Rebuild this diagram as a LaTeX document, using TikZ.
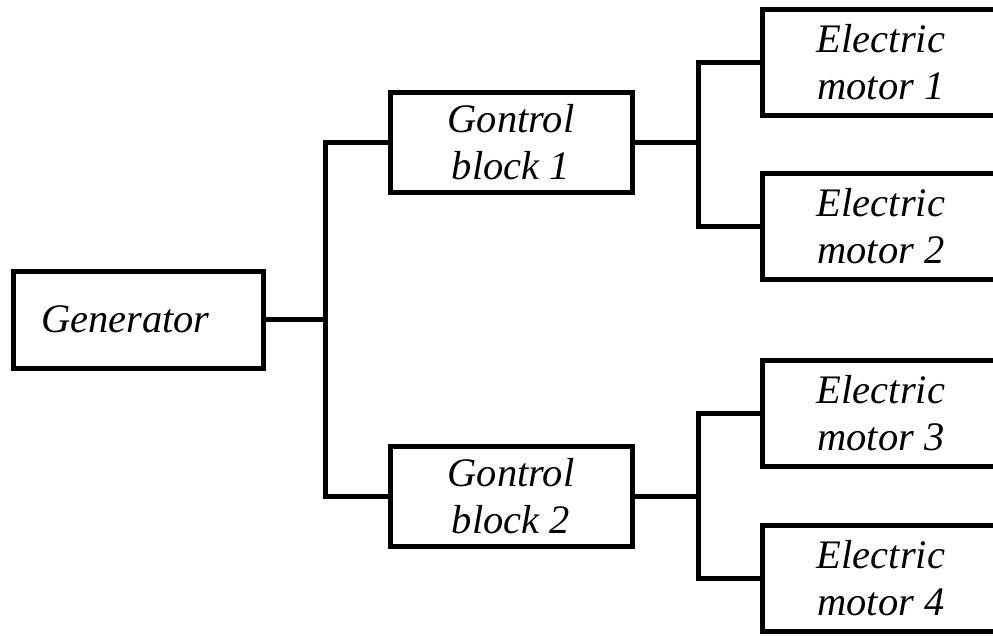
\documentclass[tikz,border=0pt]{standalone}
\usepackage{fontspec}
\setmainfont{Liberation Serif}
\newcommand\blockfont{\fontsize{40.5}{47}\selectfont\itshape}
\tikzset{
  blockbox/.style={draw=black, line width=5pt, inner sep=0pt, align=center, font=\blockfont},
  ctrlbox/.style={blockbox, minimum width=242pt, minimum height=100pt},
  motorbox/.style={blockbox, minimum width=238pt, minimum height=106pt},
  wire/.style={draw=black, line width=5pt}
}
\begin{document}
\begin{tikzpicture}[x=1pt,y=-1pt]
  \clip (0,0) rectangle (993,635);
  \fill[white] (0,0) rectangle (993,635);

  % source
  \node[blockbox, text width=194pt, align=left, inner xsep=28pt, minimum height=97pt] (gen) at (138,319.5) {Generator};

  % control blocks
  \node[ctrlbox] (cb1) at (511,142.5) {Gontrol\\block 1};
  \node[ctrlbox] (cb2) at (511,496) {Gontrol\\block 2};

  % motors
  \node[motorbox] (m1) at (881,62.5) {Electric\\motor 1};
  \node[motorbox] (m2) at (881,226) {Electric\\motor 2};
  \node[motorbox] (m3) at (881,413.5) {Electric\\motor 3};
  \node[motorbox] (m4) at (881,578) {Electric\\motor 4};

  % bus junctions
  \coordinate (j0) at (325,319.5);
  \coordinate (j1) at (698,142.5);
  \coordinate (j2) at (698,496);

  % wiring
  \draw[wire] (gen.east) -- (j0);
  \draw[wire] (cb1.west) -| (j0) |- (cb2.west);
  \draw[wire] (cb1.east) -- (j1);
  \draw[wire] (m1.west) -| (j1) |- (m2.west);
  \draw[wire] (cb2.east) -- (j2);
  \draw[wire] (m3.west) -| (j2) |- (m4.west);
\end{tikzpicture}
\end{document}
